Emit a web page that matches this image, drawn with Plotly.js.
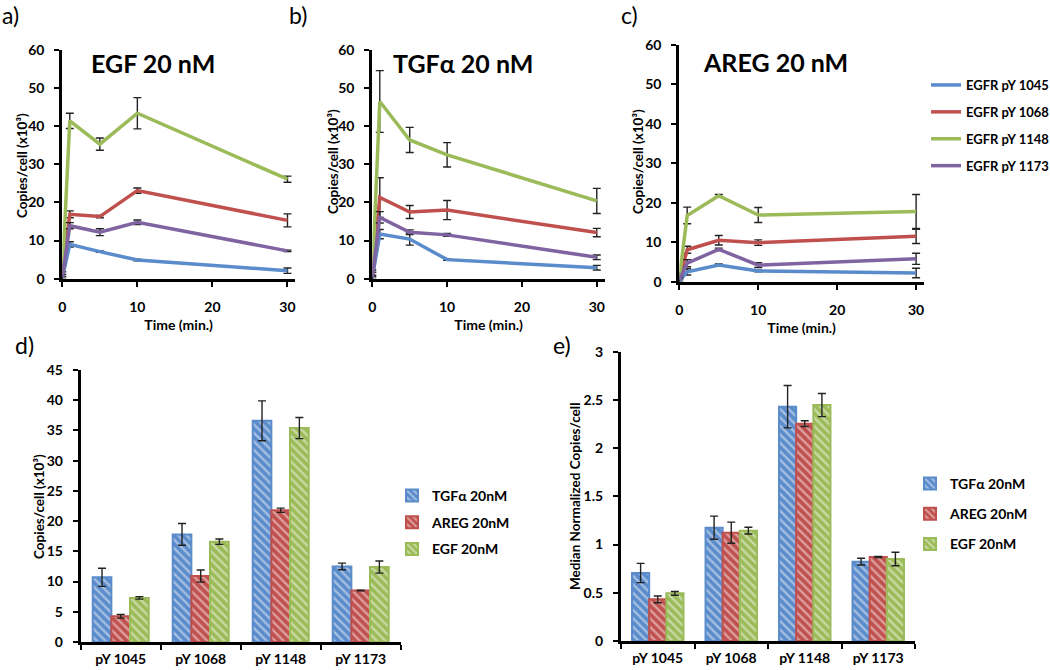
<!DOCTYPE html>
<html><head><meta charset="utf-8">
<script src="https://cdn.plot.ly/plotly-3.0.1.min.js"></script>
<style>html,body{margin:0;padding:0;background:#fff}#chart{width:1050px;height:670px}</style>
</head><body><div id="chart"></div>
<script>
// ---------- data ----------
const timeMin = [0, 1, 5, 10, 30];
const siteNames = ['EGFR pY 1045', 'EGFR pY 1068', 'EGFR pY 1148', 'EGFR pY 1173'];

// a) EGF 20 nM
const egf1045 = [0.2, 9.0, 7.1, 4.9, 2.1];
const egf1045Err = [0.3, 0.7, 0.2, 0.2, 0.7];
const egf1068 = [0.5, 16.9, 16.3, 23.1, 15.3];
const egf1068Err = [1.3, 0.9, 0.3, 0.7, 1.7];
const egf1148 = [1.0, 41.4, 35.3, 43.4, 26.1];
const egf1148Err = [3.0, 2.0, 1.6, 4.1, 0.8];
const egf1173 = [0.4, 13.9, 12.2, 14.8, 7.3];
const egf1173Err = [0.7, 0.8, 0.9, 0.6, 0.2];

// b) TGFα 20 nM
const tgf1045 = [0.2, 11.7, 10.4, 5.0, 2.9];
const tgf1045Err = [0.3, 1.2, 1.6, 0.2, 0.6];
const tgf1068 = [0.5, 21.3, 17.5, 18.0, 12.1];
const tgf1068Err = [1.2, 5.2, 1.7, 2.5, 1.1];
const tgf1148 = [0.8, 46.5, 36.4, 32.5, 20.4];
const tgf1148Err = [1.5, 8.1, 3.3, 3.2, 3.3];
const tgf1173 = [0.3, 16.1, 12.2, 11.5, 5.6];
const tgf1173Err = [0.6, 1.5, 0.6, 0.4, 0.6];

// c) AREG 20 nM
const areg1045 = [0.2, 2.5, 4.2, 2.7, 2.2];
const areg1045Err = [0.3, 0.8, 0.3, 0.2, 1.2];
const areg1068 = [0.5, 8.1, 10.5, 9.9, 11.5];
const areg1068Err = [1.0, 0.9, 1.2, 0.7, 1.8];
const areg1148 = [0.8, 16.8, 21.8, 16.9, 17.8];
const areg1148Err = [1.5, 2.1, 0.3, 1.9, 4.3];
const areg1173 = [0.4, 4.7, 8.2, 4.2, 5.8];
const areg1173Err = [0.6, 0.9, 0.3, 0.6, 1.4];

// d) / e) bar charts
const sites = ['pY 1045', 'pY 1068', 'pY 1148', 'pY 1173'];
const ligandNames = ['TGFα 20nM', 'AREG 20nM', 'EGF 20nM'];
const dTgf = [10.7, 17.8, 36.6, 12.5];
const dTgfErr = [1.5, 1.8, 3.3, 0.55];
const dAreg = [4.25, 10.9, 21.8, 8.5];
const dAregErr = [0.3, 1.0, 0.35, 0.05];
const dEgf = [7.3, 16.6, 35.4, 12.4];
const dEgfErr = [0.2, 0.45, 1.75, 1.0];

const eTgf = [0.705, 1.175, 2.43, 0.823];
const eTgfErr = [0.1, 0.12, 0.22, 0.035];
const eAreg = [0.432, 1.123, 2.254, 0.871];
const eAregErr = [0.035, 0.11, 0.03, 0.005];
const eEgf = [0.494, 1.144, 2.447, 0.85];
const eEgfErr = [0.02, 0.035, 0.12, 0.07];

// ---------- styling ----------
const lineColors = ['#5A8BCB', '#C0504D', '#9BBB59', '#8064A2'];
const barColors = ['#5A8BCB', '#C0504D', '#9BBB59'];
const FONT = 'Lato, "Open Sans", sans-serif';
const W = 1050, H = 670;
const px = v => v / W;
const py = v => 1 - v / H;

const traces = [];
const panels = [
  {ax: '', data: [[egf1045, egf1045Err], [egf1068, egf1068Err], [egf1148, egf1148Err], [egf1173, egf1173Err]], legend: false},
  {ax: '2', data: [[tgf1045, tgf1045Err], [tgf1068, tgf1068Err], [tgf1148, tgf1148Err], [tgf1173, tgf1173Err]], legend: false},
  {ax: '3', data: [[areg1045, areg1045Err], [areg1068, areg1068Err], [areg1148, areg1148Err], [areg1173, areg1173Err]], legend: true}
];
panels.forEach(p => {
  p.data.forEach((d, i) => {
    traces.push({
      type: 'scatter', mode: 'lines', x: timeMin, y: d[0],
      name: siteNames[i], legendgroup: 's' + i, showlegend: p.legend,
      xaxis: 'x' + p.ax, yaxis: 'y' + p.ax,
      line: {color: lineColors[i], width: 3.5},
      error_y: {type: 'data', array: d[1], visible: true, color: '#222', thickness: 1.4, width: 4}
    });
  });
});

function addBars(ax, legendId, sets) {
  sets.forEach((s, i) => {
    traces.push({
      type: 'bar', x: sites, y: s[0], name: ligandNames[i],
      xaxis: 'x' + ax, yaxis: 'y' + ax, legend: legendId, legendgroup: legendId + i,
      marker: {color: barColors[i], line: {color: barColors[i], width: 2},
               pattern: {shape: '\\', fillmode: 'overlay', fgcolor: 'rgba(255,255,255,0.9)', size: 6, solidity: 0.4}},
      error_y: {type: 'data', array: s[1], visible: true, color: '#222', thickness: 1.4, width: 4}
    });
  });
}
addBars('4', 'legend2', [[dTgf, dTgfErr], [dAreg, dAregErr], [dEgf, dEgfErr]]);
addBars('5', 'legend3', [[eTgf, eTgfErr], [eAreg, eAregErr], [eEgf, eEgfErr]]);

const tickFont = {family: FONT, size: 14, color: '#000', weight: 'bold'};
const titleFont = {family: FONT, size: 14, color: '#000', weight: 'bold'};
function axBase(extra) {
  return Object.assign({
    showline: true, linecolor: '#000', linewidth: 3, showgrid: false, zeroline: false,
    ticks: 'outside', ticklen: 5, tickwidth: 2, tickcolor: '#000', tickfont: tickFont,
    fixedrange: true, automargin: false
  }, extra);
}
function timeX(d0, d1, anchor, r) {
  return axBase({domain: [px(d0), px(d1)], anchor: anchor, range: [0, r], tickvals: [0, 10, 20, 30],
    ticklabelstandoff: 8, title: {text: 'Time (min.)', font: titleFont, standoff: 7}});
}
function valueY(d0, d1, anchor, r, dt) {
  return axBase({domain: [py(d0), py(d1)], anchor: anchor, range: [0, r], dtick: dt, ticklabelstandoff: 7});
}

const yTitleFont = {family: FONT, size: 13.5, color: '#000', weight: 'bold'};
const yTitles = [
  {text: 'Copies/cell (x10³)', x: 22, y: 166},
  {text: 'Copies/cell (x10³)', x: 333, y: 161},
  {text: 'Copies/cell (x10³)', x: 638, y: 162},
  {text: 'Copies/cell (x10³)', x: 39, y: 507},
  {text: 'Median Normalized Copies/cell', x: 575, y: 497}
];

const layout = {
  width: W, height: H, margin: {l: 0, r: 0, t: 0, b: 0, autoexpand: false},
  paper_bgcolor: '#fff', plot_bgcolor: 'rgba(0,0,0,0)',
  font: {family: FONT, color: '#000'},
  barmode: 'group', bargap: 0.3, bargroupgap: 0,
  xaxis: timeX(62.3, 295, 'y', 31.0),
  yaxis: valueY(278.7, 50, 'x', 60, 10),
  xaxis2: timeX(372.3, 605, 'y2', 31.1),
  yaxis2: valueY(278.7, 50, 'x2', 60, 10),
  xaxis3: timeX(679.3, 924, 'y3', 31.0),
  yaxis3: valueY(281.7, 45, 'x3', 60, 10),
  xaxis4: axBase({domain: [px(80.7), px(400.7)], anchor: 'y4', tickson: 'boundaries', ticklabelstandoff: 2}),
  yaxis4: valueY(642, 370, 'x4', 45, 5),
  xaxis5: axBase({domain: [px(621), px(915)], anchor: 'y5', tickson: 'boundaries', ticklabelstandoff: 2}),
  yaxis5: valueY(641, 351.7, 'x5', 3, 0.5),
  legend: {x: px(926), y: py(70), xanchor: 'left', yanchor: 'top', bgcolor: 'rgba(0,0,0,0)',
    font: {family: FONT, size: 13, weight: 'bold', color: '#000'}, tracegroupgap: 7},
  legend2: {x: px(392), y: py(480), xanchor: 'left', yanchor: 'top', bgcolor: 'rgba(0,0,0,0)',
    font: {family: FONT, size: 14, weight: 'bold', color: '#000'}, tracegroupgap: 5.5},
  legend3: {x: px(910), y: py(468), xanchor: 'left', yanchor: 'top', bgcolor: 'rgba(0,0,0,0)',
    font: {family: FONT, size: 14, weight: 'bold', color: '#000'}, tracegroupgap: 9},
  annotations: [
    {text: 'a)', x: px(0), y: py(15), xanchor: 'left', yanchor: 'middle', font: {size: 23}},
    {text: 'b)', x: px(287), y: py(15), xanchor: 'left', yanchor: 'middle', font: {size: 23}},
    {text: 'c)', x: px(619), y: py(15), xanchor: 'left', yanchor: 'middle', font: {size: 23}},
    {text: 'd)', x: px(13), y: py(345), xanchor: 'left', yanchor: 'middle', font: {size: 23}},
    {text: 'e)', x: px(551), y: py(345), xanchor: 'left', yanchor: 'middle', font: {size: 23}},
    {text: 'EGF 20 nM', x: px(153), y: py(63), xanchor: 'center', yanchor: 'middle', font: {size: 25, weight: 'bold'}},
    {text: 'TGFα 20 nM', x: px(463), y: py(63), xanchor: 'center', yanchor: 'middle', font: {size: 25, weight: 'bold'}},
    {text: 'AREG 20 nM', x: px(775), y: py(62), xanchor: 'center', yanchor: 'middle', font: {size: 25, weight: 'bold'}}
  ].concat(yTitles.map(t => ({text: t.text, x: px(t.x), y: py(t.y), textangle: -90,
      xanchor: 'center', yanchor: 'middle', font: yTitleFont})))
   .map(a => Object.assign({xref: 'paper', yref: 'paper', showarrow: false}, a))
};

Plotly.newPlot('chart', traces, layout, {displayModeBar: false, staticPlot: true});
</script>
</body></html>
